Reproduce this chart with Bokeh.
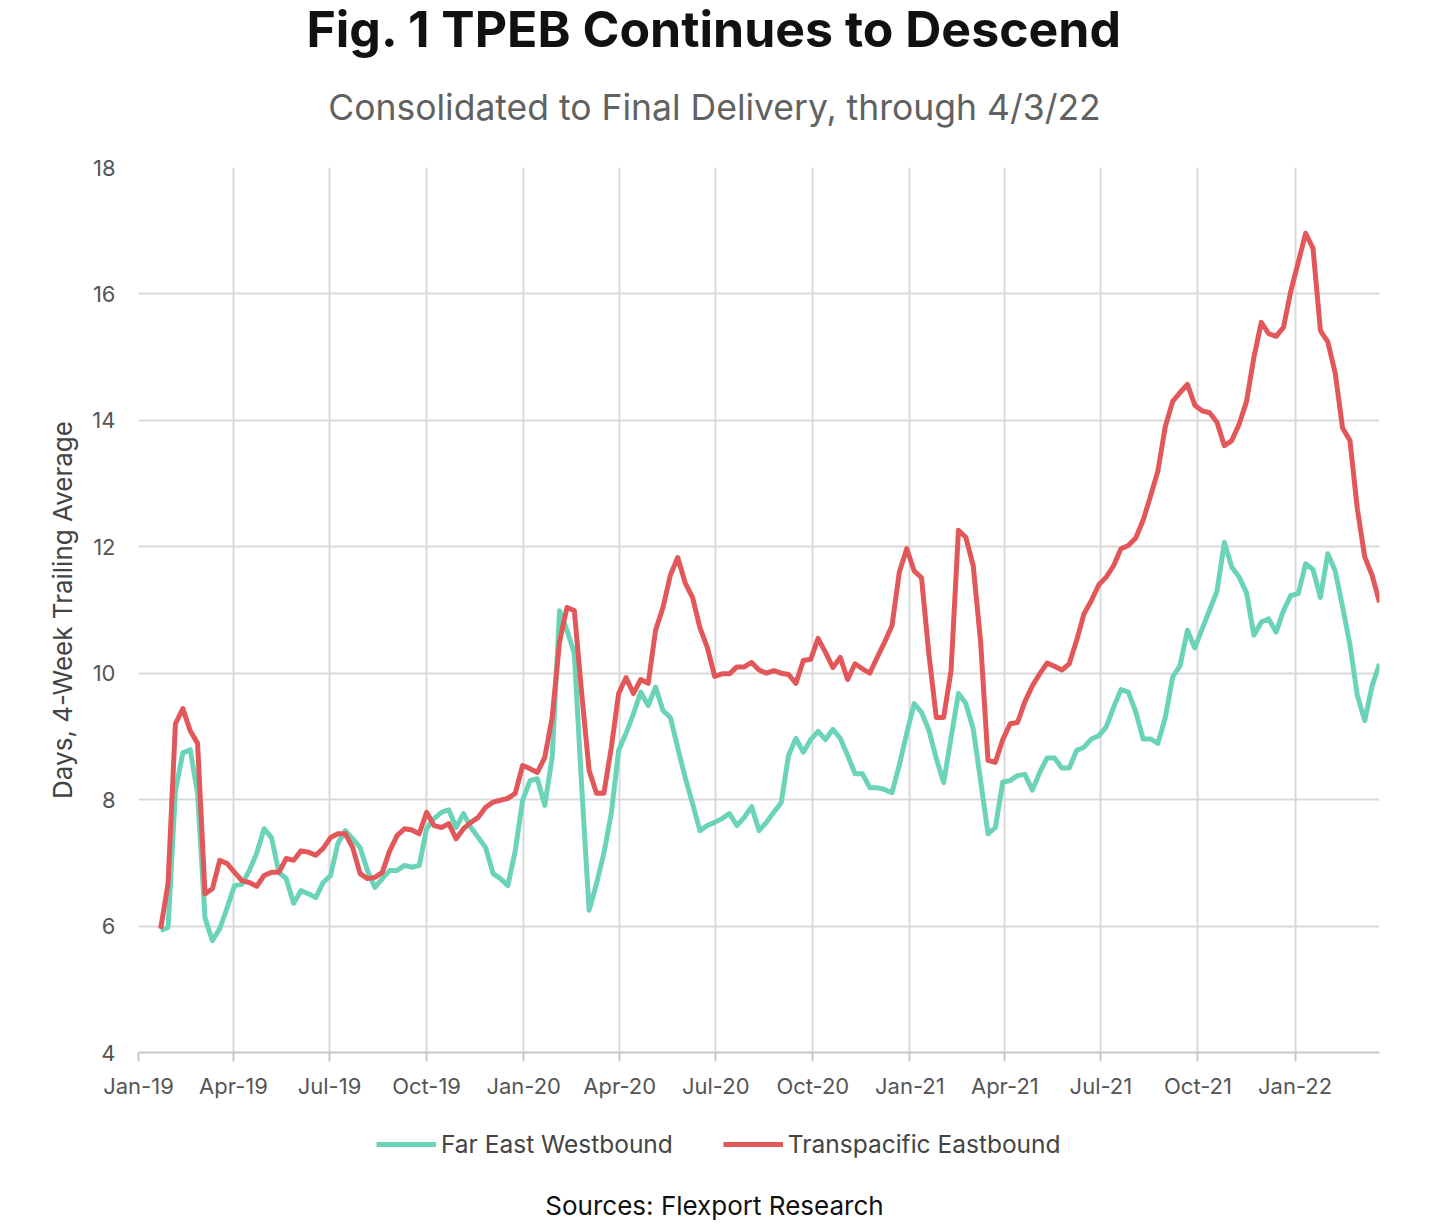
import pandas as pd
from bokeh.plotting import figure
from bokeh.layouts import column
from bokeh.models import (FixedTicker, DatetimeTickFormatter, Label, Legend,
                          LegendItem, Range1d, ColumnDataSource)
from bokeh.embed import file_html
from bokeh.resources import INLINE

# ---------------- data ----------------
first_week = "2019-01-22"
n_weeks = 166
dates = pd.date_range(first_week, periods=n_weeks, freq="7D")

far_east_westbound = [
    5.93, 5.98, 8.14, 8.74, 8.79, 8.10, 6.13, 5.77, 5.96, 6.29,
    6.64, 6.66, 6.88, 7.15, 7.54, 7.40, 6.85, 6.75, 6.36, 6.56,
    6.51, 6.45, 6.69, 6.80, 7.31, 7.51, 7.38, 7.24, 6.88, 6.61,
    6.75, 6.88, 6.88, 6.96, 6.93, 6.96, 7.54, 7.70, 7.80, 7.84,
    7.56, 7.78, 7.56, 7.40, 7.24, 6.83, 6.75, 6.64, 7.19, 7.99,
    8.30, 8.33, 7.91, 8.67, 10.99, 10.68, 10.31, 8.20, 6.25, 6.67,
    7.15, 7.78, 8.78, 9.05, 9.36, 9.70, 9.49, 9.78, 9.41, 9.30,
    8.82, 8.35, 7.94, 7.51, 7.59, 7.64, 7.70, 7.78, 7.59, 7.72,
    7.89, 7.51, 7.64, 7.80, 7.95, 8.70, 8.97, 8.75, 8.95, 9.08,
    8.95, 9.11, 8.97, 8.70, 8.41, 8.41, 8.19, 8.19, 8.16, 8.11,
    8.55, 9.05, 9.52, 9.38, 9.10, 8.65, 8.27, 8.98, 9.68, 9.52,
    9.12, 8.30, 7.46, 7.56, 8.28, 8.30, 8.38, 8.40, 8.15, 8.43,
    8.66, 8.66, 8.50, 8.50, 8.78, 8.83, 8.96, 9.01, 9.15, 9.46,
    9.74, 9.70, 9.39, 8.96, 8.96, 8.89, 9.30, 9.94, 10.12, 10.68,
    10.40, 10.70, 11.00, 11.30, 12.07, 11.68, 11.52, 11.27, 10.60, 10.81,
    10.86, 10.65, 10.99, 11.23, 11.26, 11.73, 11.64, 11.20, 11.89, 11.62,
    11.05, 10.45, 9.65, 9.25, 9.80, 10.15,
]

transpacific_eastbound = [
    5.96, 6.67, 9.20, 9.44, 9.09, 8.89, 6.51, 6.59, 7.04, 6.99,
    6.85, 6.72, 6.69, 6.63, 6.80, 6.85, 6.85, 7.07, 7.04, 7.19,
    7.17, 7.12, 7.23, 7.40, 7.46, 7.46, 7.24, 6.83, 6.75, 6.77,
    6.85, 7.19, 7.43, 7.54, 7.52, 7.46, 7.80, 7.59, 7.56, 7.62,
    7.38, 7.54, 7.64, 7.72, 7.88, 7.96, 7.99, 8.02, 8.10, 8.54,
    8.49, 8.43, 8.67, 9.30, 10.50, 11.04, 10.99, 9.68, 8.46, 8.10,
    8.10, 8.82, 9.68, 9.93, 9.68, 9.90, 9.84, 10.68, 11.04, 11.55,
    11.83, 11.43, 11.20, 10.72, 10.41, 9.95, 9.99, 9.99, 10.10, 10.10,
    10.17, 10.05, 10.00, 10.04, 10.00, 9.98, 9.84, 10.20, 10.22, 10.55,
    10.33, 10.09, 10.25, 9.90, 10.15, 10.07, 10.00, 10.25, 10.49, 10.75,
    11.60, 11.97, 11.62, 11.51, 10.30, 9.30, 9.30, 10.04, 12.26, 12.15,
    11.70, 10.50, 8.62, 8.59, 8.95, 9.20, 9.22, 9.55, 9.80, 9.99,
    10.16, 10.11, 10.05, 10.15, 10.52, 10.94, 11.15, 11.40, 11.52, 11.70,
    11.97, 12.02, 12.14, 12.42, 12.80, 13.20, 13.90, 14.30, 14.44, 14.57,
    14.24, 14.15, 14.12, 13.97, 13.60, 13.68, 13.94, 14.30, 15.00, 15.55,
    15.37, 15.33, 15.47, 16.05, 16.50, 16.96, 16.72, 15.42, 15.24, 14.75,
    13.88, 13.68, 12.60, 11.84, 11.55, 11.12,
]

x_tick_dates = ["2019-01-01", "2019-04-01", "2019-07-01", "2019-10-01",
                "2020-01-01", "2020-04-01", "2020-07-01", "2020-10-01",
                "2021-01-01", "2021-04-01", "2021-07-01", "2021-10-01",
                "2022-01-01"]
y_ticks = [4, 6, 8, 10, 12, 14, 16, 18]

series_names = ["Far East Westbound", "Transpacific Eastbound"]
series_colors = ["#6BD3B8", "#E2585A"]

title_text = "Fig. 1 TPEB Continues to Descend"
subtitle_text = "Consolidated to Final Delivery, through 4/3/22"
y_label = "Days, 4-Week Trailing Average"
source_text = "Sources: Flexport Research"

# ---------------- layout constants ----------------
FONT = "Inter"
LEFT, FW, FH, RIGHT = 138, 1241, 885, 40
TOP_H = 152          # header strip height
MAIN_TOP = 15        # space above the frame for the top tick label
AXIS_H = 50
BOT_H = 118
CX = 714             # horizontal centre of the page
LW = 5


def blank_fig(h):
    f = figure(frame_width=FW, frame_height=h, output_backend="svg",
               toolbar_location=None,
               x_range=Range1d(LEFT, LEFT + FW), y_range=Range1d(0, h),
               x_axis_location=None, y_axis_location=None,
               min_border_left=LEFT, min_border_right=RIGHT,
               min_border_top=0, min_border_bottom=0)
    f.grid.visible = False
    f.outline_line_color = None
    f.background_fill_color = "white"
    f.border_fill_color = "white"
    return f


# ---------------- header (title + subtitle) ----------------
head = blank_fig(TOP_H)
head.add_layout(Label(x=CX, y=TOP_H - 28, text=title_text,
                      text_align="center", text_baseline="middle",
                      text_font=FONT, text_font_size="50px",
                      text_font_style="bold", text_color="#111111"))
head.add_layout(Label(x=CX, y=TOP_H - 107, text=subtitle_text,
                      text_align="center", text_baseline="middle",
                      text_font=FONT, text_font_size="35.5px",
                      text_color="#616161"))

# ---------------- main chart ----------------
x_ticks_ms = [pd.Timestamp(d).value / 1e6 for d in x_tick_dates]

p = figure(frame_width=FW, frame_height=FH, x_axis_type="datetime",
           output_backend="svg", toolbar_location=None,
           x_range=Range1d(pd.Timestamp("2019-01-01"), dates[-1]),
           y_range=Range1d(4, 18),
           min_border_left=LEFT, min_border_right=RIGHT,
           min_border_top=MAIN_TOP, min_border_bottom=AXIS_H)
p.title = None
p.outline_line_color = None
p.background_fill_color = "white"

src = ColumnDataSource(dict(date=dates, fe=far_east_westbound,
                            tp=transpacific_eastbound))
p.line("date", "fe", source=src, line_color=series_colors[0],
       line_width=LW, line_join="round")
p.line("date", "tp", source=src, line_color=series_colors[1],
       line_width=LW, line_join="round")

xa = p.xaxis[0]
xa.ticker = FixedTicker(ticks=x_ticks_ms)
fmt = "%b-%y"
xa.formatter = DatetimeTickFormatter(days=fmt, months=fmt, years=fmt,
                                     hours=fmt, minutes=fmt, seconds=fmt)
xa.axis_line_color = "#C8C8C8"
xa.axis_line_width = 2
xa.major_tick_line_color = "#C8C8C8"
xa.major_tick_line_width = 2
xa.major_tick_out = 9
xa.major_tick_in = 0
xa.minor_tick_line_color = None
xa.major_label_text_font = FONT
xa.major_label_text_font_size = "22px"
xa.major_label_text_color = "#555555"
xa.major_label_standoff = 11

ya = p.yaxis[0]
ya.ticker = FixedTicker(ticks=y_ticks)
ya.axis_line_color = None
ya.major_tick_line_color = None
ya.minor_tick_line_color = None
ya.major_label_text_font = FONT
ya.major_label_text_font_size = "22px"
ya.major_label_text_color = "#555555"
ya.major_label_standoff = 17
ya.axis_label = y_label
ya.axis_label_text_font = FONT
ya.axis_label_text_font_size = "26px"
ya.axis_label_text_font_style = "normal"
ya.axis_label_text_color = "#444444"
ya.axis_label_standoff = 11

p.xgrid.ticker = FixedTicker(ticks=x_ticks_ms)
p.ygrid.ticker = FixedTicker(ticks=y_ticks)
for g in (p.xgrid[0], p.ygrid[0]):
    g.grid_line_color = "#D9D9D9"
    g.grid_line_width = 2

# ---------------- footer (legend + source) ----------------
foot = blank_fig(BOT_H)
nan = float("nan")
# invisible stub renderers that only carry the legend line styles
k1 = foot.line(x=[nan], y=[nan], line_color=series_colors[0], line_width=LW)
k2 = foot.line(x=[nan], y=[nan], line_color=series_colors[1], line_width=LW)
legend = Legend(items=[LegendItem(label=series_names[0], renderers=[k1]),
                       LegendItem(label=series_names[1], renderers=[k2])],
                orientation="horizontal",
                location=(376 - LEFT, BOT_H - 41 - 16),
                label_text_font=FONT, label_text_font_size="24.5px",
                label_text_color="#444444", glyph_width=60, glyph_height=24,
                spacing=50, border_line_color=None,
                background_fill_alpha=0, margin=0, padding=5)
foot.add_layout(legend)
foot.add_layout(Label(x=CX, y=BOT_H - 103, text=source_text,
                      text_align="center", text_baseline="middle",
                      text_font=FONT, text_font_size="26px",
                      text_color="#111111"))

layout = column(head, p, foot, spacing=0)
open("out.html", "w").write(file_html(layout, INLINE))
